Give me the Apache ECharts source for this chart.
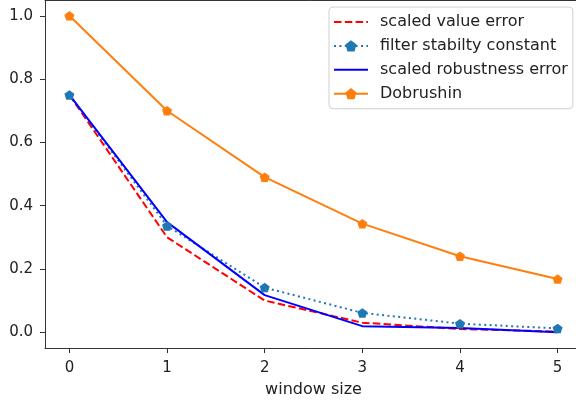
<!DOCTYPE html>
<html>
<head>
<meta charset="utf-8">
<script src="https://cdn.jsdelivr.net/npm/echarts@6/dist/echarts.min.js"></script>
<style>html,body{margin:0;padding:0;background:#fff}#c{width:576px;height:404px}</style>
</head>
<body>
<div id="c"></div>
<script>
const windowSizes = [0, 1, 2, 3, 4, 5];
const scaledValueError = [0.75, 0.30, 0.10, 0.03, 0.01, 0.002];
const filterStabilityConstant = [0.75, 0.336, 0.141, 0.061, 0.027, 0.012];
const scaledRobustnessError = [0.75, 0.348, 0.117, 0.019, 0.013, 0.0];
const dobrushin = [1.0, 0.7, 0.49, 0.343, 0.2401, 0.168];
const xTicks = [0, 1, 2, 3, 4, 5];
const yTicks = [0.0, 0.2, 0.4, 0.6, 0.8, 1.0];
const legendNames = ['scaled value error', 'filter stabilty constant', 'scaled robustness error', 'Dobrushin'];

const pentagon = 'path://M50,0 L97.55,34.55 L79.39,90.45 L20.61,90.45 L2.45,34.55 Z';
const dashIcon = 'path://M0,0h7.5v2h-7.5z M10.8,0h7.5v2h-7.5z M21.6,0h7.5v2h-7.5z M32.4,0h1.6v2h-1.6z';
const solidIcon = 'path://M0,0h34v2h-34z';
const pair = arr => windowSizes.map((x, i) => [x, arr[i]]);
const font = 'DejaVu Sans';
const spine = {show: true, onZero: false, lineStyle: {color: '#333', width: 1}};

const chart = echarts.init(document.getElementById('c'), null, {renderer: 'canvas'});
chart.setOption({
  animation: false,
  backgroundColor: '#fff',
  grid: {left: 45, right: -6, top: 0, bottom: 56, outerBoundsMode: 'none', containLabel: false, show: false},
  xAxis: [{
    type: 'value', min: -0.25, max: 5.25, position: 'bottom',
    name: 'window size', nameLocation: 'middle', nameGap: 34,
    nameTextStyle: {fontFamily: font, fontSize: 16, color: '#222'},
    axisLine: spine,
    axisTick: {show: true, length: 5, customValues: xTicks, lineStyle: {color: '#333'}},
    axisLabel: {customValues: xTicks, margin: 13, fontFamily: font, fontSize: 15, color: '#222', formatter: v => String(v)},
    splitLine: {show: false}
  }, {
    type: 'value', min: -0.25, max: 5.25, position: 'top',
    axisLine: spine, axisTick: {show: false}, axisLabel: {show: false}, splitLine: {show: false}
  }],
  yAxis: {
    type: 'value', min: -0.05, max: 1.05,
    axisLine: spine,
    axisTick: {show: true, length: 5, customValues: yTicks, lineStyle: {color: '#333'}},
    axisLabel: {customValues: yTicks, margin: 12, fontFamily: font, fontSize: 15, color: '#222', formatter: v => v.toFixed(1)},
    splitLine: {show: false}
  },
  legend: {
    orient: 'vertical', left: 329, top: 7,
    itemWidth: 34, itemHeight: 14, itemGap: 7.9,
    padding: [7, 5, 7, 4],
    borderColor: '#d0d0d0', borderWidth: 1, borderRadius: 4,
    backgroundColor: 'rgba(255,255,255,0.8)',
    textStyle: {fontFamily: font, fontSize: 16, lineHeight: 16, color: '#222', padding: [0, 0, 0, 7]},
    data: [
      {name: legendNames[0], icon: dashIcon},
      {name: legendNames[1]},
      {name: legendNames[2], icon: solidIcon},
      {name: legendNames[3]}
    ]
  },
  series: [
    {name: legendNames[0], type: 'line', data: pair(scaledValueError), symbol: 'none',
     lineStyle: {color: '#ff0000', width: 2, type: [7.5, 3.3]}, itemStyle: {color: '#ff0000'}},
    {name: legendNames[1], type: 'line', data: pair(filterStabilityConstant), symbol: pentagon, symbolSize: 10, symbolKeepAspect: true,
     lineStyle: {color: '#1f77b4', width: 2, type: [2, 3.4]}, itemStyle: {color: '#1f77b4'}},
    {name: legendNames[2], type: 'line', data: pair(scaledRobustnessError), symbol: 'none',
     lineStyle: {color: '#0000ff', width: 2}, itemStyle: {color: '#0000ff'}},
    {name: legendNames[3], type: 'line', data: pair(dobrushin), symbol: pentagon, symbolSize: 10, symbolKeepAspect: true,
     lineStyle: {color: '#ff7f0e', width: 2}, itemStyle: {color: '#ff7f0e'}}
  ]
});
</script>
</body>
</html>
